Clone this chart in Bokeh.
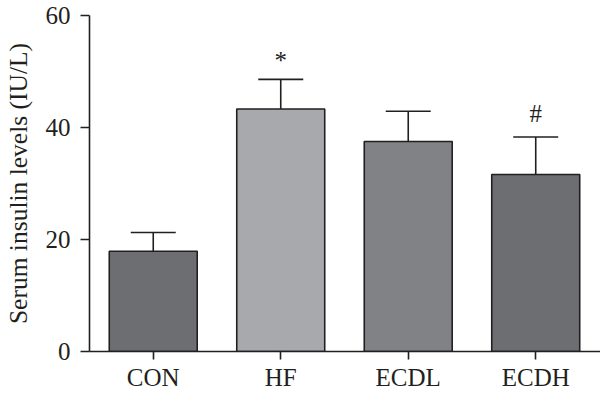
from bokeh.plotting import figure
from bokeh.models import Range1d, FixedTicker, Whisker, TeeHead, ColumnDataSource
from bokeh.core.properties import value
from bokeh.embed import file_html
from bokeh.resources import INLINE

groups = ["CON", "HF", "ECDL", "ECDH"]
means = [17.9, 43.3, 37.5, 31.6]
sems = [3.35, 5.3, 5.4, 6.7]
colors = ["#6d6e71", "#a7a9ac", "#808285", "#6d6e71"]
marks = ["", "*", "", "#"]
y_ticks = [0, 20, 40, 60]

xs = list(range(len(groups)))
upper = [m + s for m, s in zip(means, sems)]

FONT = "Liberation Serif"
INK = "#231f20"

src = ColumnDataSource(dict(x=xs, top=means, upper=upper, color=colors))

p = figure(width=600, height=393, output_backend="svg", toolbar_location=None,
           x_range=Range1d(-0.5, 3.508), y_range=Range1d(0, 60),
           min_border_left=89, min_border_right=0, min_border_top=15, min_border_bottom=42)

p.vbar(x="x", top="top", bottom=0, width=0.69, fill_color="color",
       line_color=INK, line_width=1.6, source=src)

p.add_layout(Whisker(source=src, base="x", upper="upper", lower="top", dimension="height",
                     line_color=INK, line_width=1.6,
                     upper_head=TeeHead(size=45, line_color=INK, line_width=1.6),
                     lower_head=None))

mark_offset = {"*": -19, "#": -24}
for i, m in enumerate(marks):
    if m:
        p.text(x=[xs[i]], y=[upper[i]], text=[m], text_align="center",
               text_baseline="alphabetic", y_offset=mark_offset[m],
               text_font=value(FONT), text_font_size="25px", text_color=INK)

p.xgrid.visible = False
p.ygrid.visible = False
p.outline_line_color = None

xa = p.xaxis[0]
xa.ticker = FixedTicker(ticks=xs)
xa.major_label_overrides = {i: g for i, g in zip(xs, groups)}
ya = p.yaxis[0]
ya.ticker = FixedTicker(ticks=y_ticks)
ya.axis_label = "Serum insulin levels (IU/L)"

for ax in (xa, ya):
    ax.axis_line_color = INK
    ax.axis_line_width = 1.6
    ax.major_tick_line_color = INK
    ax.major_tick_line_width = 1.6
    ax.major_tick_in = 0
    ax.minor_tick_line_color = None
    ax.major_label_text_font = FONT
    ax.major_label_text_font_size = "25px"
    ax.major_label_text_color = INK
    ax.axis_label_text_font = FONT
    ax.axis_label_text_font_size = "25.5px"
    ax.axis_label_text_font_style = "normal"
    ax.axis_label_text_color = INK

xa.major_tick_out = 8
xa.major_label_standoff = 4
ya.major_tick_out = 9
ya.major_label_standoff = 10
ya.axis_label_standoff = 10

open("out.html", "w").write(file_html(p, INLINE))
